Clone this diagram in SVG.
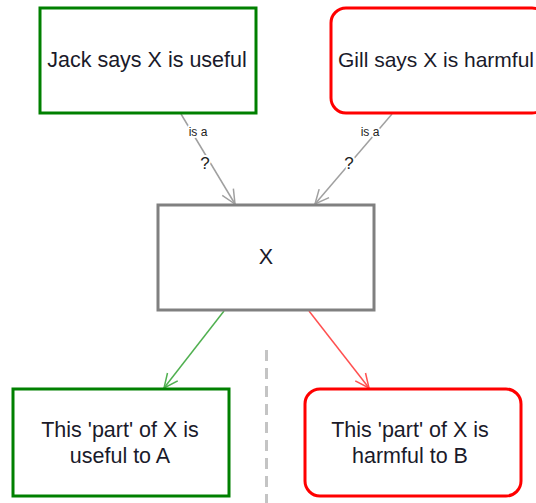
<svg xmlns="http://www.w3.org/2000/svg" width="536" height="503" viewBox="0 0 536 503">
<defs>
<style>
.box{fill:#fff;stroke-width:3}
.green{stroke:#008000}
.red{stroke:#ff0000}
.gray{stroke:#808080}
.t{font-family:"Liberation Sans",Arial,sans-serif;font-size:21.5px;fill:#1a1a2a;text-anchor:middle}
.lbl{font-family:"Liberation Sans",Arial,sans-serif;fill:#222;text-anchor:middle;stroke:#fff;stroke-width:4;paint-order:stroke;stroke-linejoin:round}
.c{fill:none;stroke-width:1.5}
</style>
<marker id="ag" viewBox="0 0 16 16" refX="15" refY="8" markerWidth="16" markerHeight="16" markerUnits="userSpaceOnUse" orient="auto"><path d="M1,1.5 L15,8 L1,14.5" fill="none" stroke="#a0a0a0" stroke-width="1.5"/></marker>
<marker id="agr" viewBox="0 0 16 16" refX="15" refY="8" markerWidth="16" markerHeight="16" markerUnits="userSpaceOnUse" orient="auto"><path d="M1,1.5 L15,8 L1,14.5" fill="none" stroke="#50b050" stroke-width="1.5"/></marker>
<marker id="ar" viewBox="0 0 16 16" refX="15" refY="8" markerWidth="16" markerHeight="16" markerUnits="userSpaceOnUse" orient="auto"><path d="M1,1.5 L15,8 L1,14.5" fill="none" stroke="#ff5050" stroke-width="1.5"/></marker>
</defs>
<g id="connectors">
<line x1="266.5" y1="350" x2="266.5" y2="503" stroke="#c4c4c4" stroke-width="3" stroke-dasharray="11,7"/>
<line class="c" x1="181" y1="114" x2="235" y2="204" stroke="#a0a0a0" marker-end="url(#ag)"/>
<line class="c" x1="392" y1="114" x2="315" y2="204" stroke="#a0a0a0" marker-end="url(#ag)"/>
<line class="c" x1="224" y1="311" x2="164" y2="388" stroke="#50b050" marker-end="url(#agr)"/>
<line class="c" x1="309" y1="311" x2="369" y2="388" stroke="#ff5050" marker-end="url(#ar)"/>
<text class="lbl" x="198" y="136" font-size="12">is a</text>
<text class="lbl" x="205" y="169" font-size="17">?</text>
<text class="lbl" x="370" y="136" font-size="12">is a</text>
<text class="lbl" x="349" y="169" font-size="17">?</text>
</g>
<g id="jack">
<rect class="box green" x="40" y="8" width="216" height="105"/>
<text class="t" x="147" y="67">Jack says X is useful</text>
</g>
<g id="gill">
<rect class="box red" x="331" y="8" width="216" height="105" rx="15"/>
<text class="t" x="436" y="67" style="font-size:21px">Gill says X is harmful</text>
</g>
<g id="x">
<rect class="box gray" x="158" y="205" width="216" height="105"/>
<text class="t" x="266" y="264">X</text>
</g>
<g id="useful">
<rect class="box green" x="13" y="389" width="216" height="107"/>
<text class="t" x="120" y="437">This 'part' of X is</text>
<text class="t" x="120" y="463">useful to A</text>
</g>
<g id="harmful">
<rect class="box red" x="305" y="389" width="216" height="107" rx="15"/>
<text class="t" x="410" y="437">This 'part' of X is</text>
<text class="t" x="410" y="463">harmful to B</text>
</g>
</svg>
